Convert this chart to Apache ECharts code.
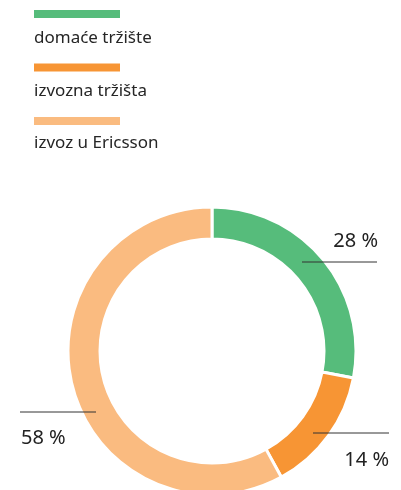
<!DOCTYPE html>
<html>
<head>
<meta charset="utf-8">
<script src="https://cdn.jsdelivr.net/npm/echarts@6/dist/echarts.min.js"></script>
<style>
  html, body { margin: 0; padding: 0; background: #fff; }
  #chart { width: 401px; height: 490px; }
</style>
</head>
<body>
<div id="chart"></div>
<script>
// udjeli prodaje
const categories = ['domaće tržište', 'izvozna tržišta', 'izvoz u Ericsson'];
const shares = [28, 14, 58];
const colors = ['#56bc7b', '#f79534', '#fabb80'];

const FONT = '"Noto Sans"';

// pozicije linija i labela (po redu slica)
const labelSpots = [
  { line: [302, 262, 377, 262], x: 378, y: 241, align: 'right' },
  { line: [313, 433, 389, 433], x: 389, y: 460, align: 'right' },
  { line: [20, 412, 96, 412], x: 21, y: 438, align: 'left' }
];

let chart = echarts.init(document.getElementById('chart'));

// legenda: traka boje iznad teksta
let graphics = [];
categories.forEach((name, i) => {
  graphics.push({
    type: 'rect',
    left: 34, top: 10 + i * 53.5,
    shape: { width: 86, height: 8 },
    style: { fill: colors[i] }
  });
  graphics.push({
    type: 'text',
    left: 34, top: 30 + i * 52.5,
    style: { text: name, font: '17px ' + FONT, fill: '#262626' }
  });
});
// vodilice iznad prstena
labelSpots.forEach(s => {
  graphics.push({
    type: 'line',
    z: 100,
    shape: { x1: s.line[0], y1: s.line[1], x2: s.line[2], y2: s.line[3] },
    style: { stroke: '#333', lineWidth: 1 }
  });
});

let option = {
  animation: false,
  color: colors,
  graphic: graphics,
  series: [{
    type: 'pie',
    center: [212, 351],
    radius: [112, 144],
    startAngle: 90,
    clockwise: true,
    itemStyle: {
      borderColor: '#fff',
      borderWidth: 3
    },
    label: {
      show: true,
      formatter: '{c} %',
      fontFamily: 'Noto Sans',
      fontSize: 20,
      color: '#222',
      overflow: 'none'
    },
    labelLine: { show: false },
    labelLayout: function (params) {
      let s = labelSpots[params.dataIndex];
      return {
        x: s.x, y: s.y,
        align: s.align,
        verticalAlign: 'middle'
      };
    },
    emphasis: { disabled: true },
    data: categories.map((name, i) => ({ name: name, value: shares[i] }))
  }]
};

chart.setOption(option);
</script>
</body>
</html>
